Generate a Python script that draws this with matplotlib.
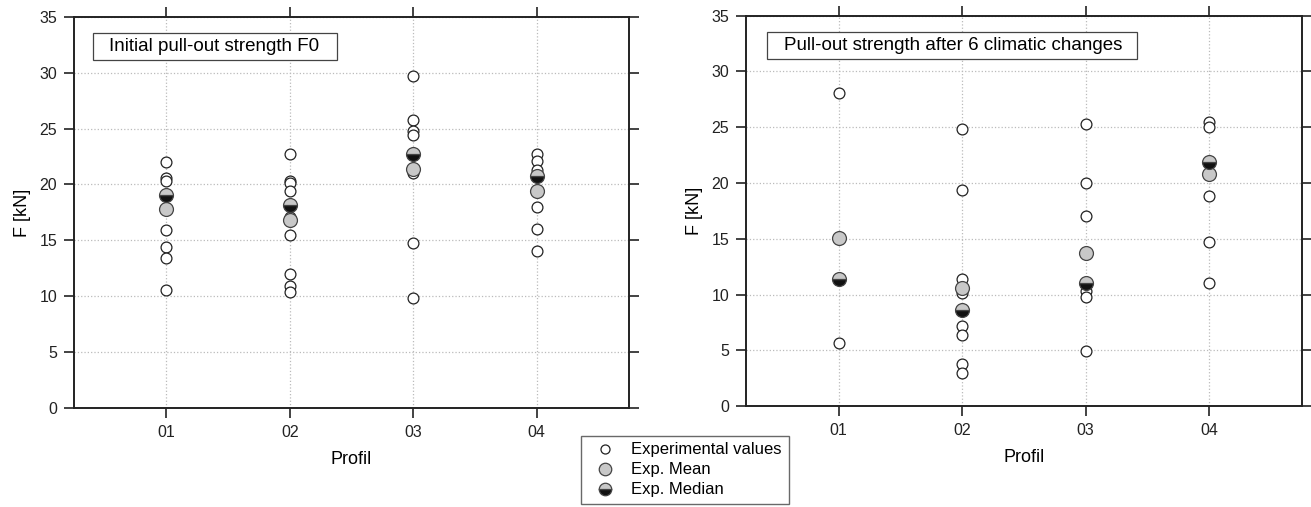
import matplotlib
matplotlib.use("Agg")
import matplotlib.pyplot as plt
from matplotlib.lines import Line2D
from matplotlib.patches import Rectangle

plt.rcParams["font.family"] = ["Liberation Sans", "DejaVu Sans"]

profiles = ["01", "02", "03", "04"]

# initial pull-out strength F0 (kN)
f0_values = [
    [22.0, 20.6, 20.3, 15.9, 14.4, 13.4, 10.6],
    [22.7, 20.3, 20.1, 19.4, 17.1, 15.45, 12.0, 10.9, 10.4],
    [29.7, 25.8, 24.8, 24.4, 21.0, 14.75, 9.85],
    [22.7, 22.1, 21.3, 18.0, 16.0, 14.05],
]
f0_mean = [17.8, 16.8, 21.4, 19.45]
f0_median = [19.1, 18.2, 22.75, 20.8]

# after 6 climatic changes (kN)
f6_values = [
    [28.1, 11.4, 5.7],
    [24.8, 19.4, 11.4, 10.15, 7.2, 6.4, 3.8, 3.0],
    [25.3, 20.0, 17.0, 11.0, 10.33, 9.8, 4.96],
    [25.5, 25.0, 21.8, 18.8, 14.67, 11.0],
]
f6_mean = [15.1, 10.55, 13.7, 20.8]
f6_median = [11.4, 8.6, 11.0, 21.85]

titles = ["Initial pull-out strength F0", "Pull-out strength after 6 climatic changes"]

fig = plt.figure(figsize=(13.11, 5.07), dpi=100)
ax1 = fig.add_axes([0.0564, 0.195, 0.4234, 0.772])
ax2 = fig.add_axes([0.569, 0.199, 0.424, 0.770])

# title box extents in axes fraction (x0, x1)
boxes = [(0.034, 0.474), (0.038, 0.703)]

for ax, vals, mean, med, title, bx in [(ax1, f0_values, f0_mean, f0_median, titles[0], boxes[0]),
                                       (ax2, f6_values, f6_mean, f6_median, titles[1], boxes[1])]:
    for i, v in enumerate(vals):
        ax.plot([i + 1] * len(v), v, "o", ms=7.8, mfc="white", mec="#222222", mew=0.9, zorder=3)
    x = range(1, len(profiles) + 1)
    ax.plot(x, mean, "o", ms=10, mfc="#c8c8c8", mec="#444444", mew=0.9, zorder=4)
    ax.plot(x, med, "o", ms=10, fillstyle="bottom", mfc="#111111", mfcalt="#c8c8c8",
            mec="#444444", mew=0.9, zorder=5)
    ax.set_xlim(0.25, 4.75)
    ax.set_ylim(0, 35)
    ax.set_xticks(list(x))
    ax.set_xticklabels(profiles)
    ax.set_yticks(range(0, 36, 5))
    ax.grid(True, linestyle=":", color="#bbbbbb", linewidth=0.9)
    ax.tick_params(direction="out", top=True, right=True, labeltop=False, labelright=False,
                   length=7, width=1.2, labelsize=11.5, colors="#222222", pad=5)
    for s in ax.spines.values():
        s.set_linewidth(1.4)
        s.set_color("#222222")
    ax.set_xlabel("Profil", fontsize=13, labelpad=8)
    ax.set_ylabel("F [kN]", fontsize=13, labelpad=6)
    ax.add_patch(Rectangle((bx[0], 0.889), bx[1] - bx[0], 0.07, transform=ax.transAxes,
                           fc="white", ec="#444444", lw=0.9, zorder=6))
    ax.text(bx[0] + 0.03, 0.924, title, transform=ax.transAxes, fontsize=13.5,
            va="center", ha="left", zorder=7)

handles = [
    Line2D([], [], ls="", marker="o", ms=6.5, mfc="white", mec="#222222", mew=0.9),
    Line2D([], [], ls="", marker="o", ms=9, mfc="#c8c8c8", mec="#444444", mew=0.9),
    Line2D([], [], ls="", marker="o", ms=9, fillstyle="bottom", mfc="#111111", mfcalt="#c8c8c8",
           mec="#444444", mew=0.9),
]
fig.legend(handles, ["Experimental values", "Exp. Mean", "Exp. Median"],
           loc="center", bbox_to_anchor=(0.5225, 0.073), fontsize=12, frameon=True,
           fancybox=False, edgecolor="#444444", handletextpad=0.6, labelspacing=0.3,
           borderpad=0.4, handlelength=2.0, borderaxespad=0)

plt.savefig("out.png", dpi=100)
